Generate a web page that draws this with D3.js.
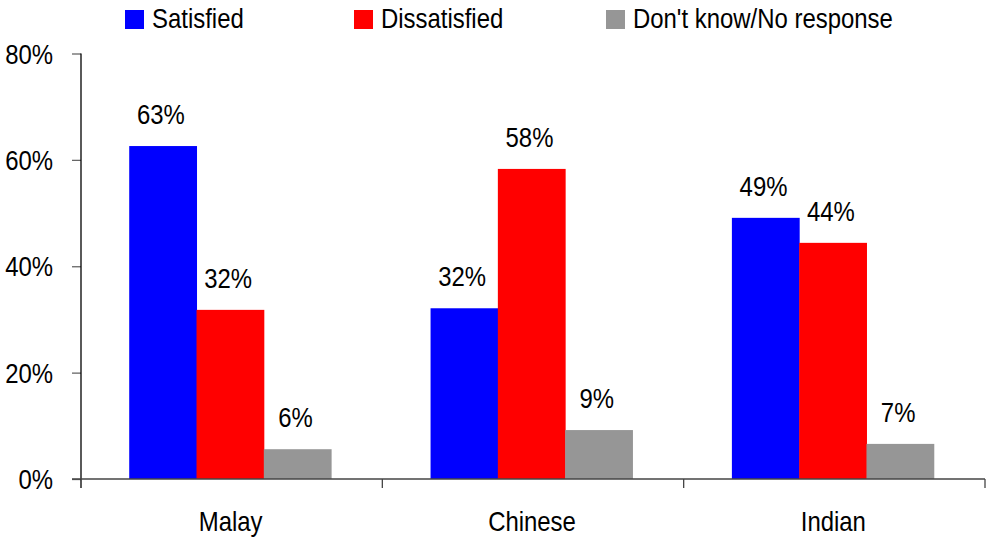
<!DOCTYPE html>
<html>
<head>
<meta charset="utf-8">
<script src="https://cdn.jsdelivr.net/npm/d3@7"></script>
<style>
  html, body { margin: 0; padding: 0; background: #fff; }
  svg text { font-family: "Liberation Sans", Arial, sans-serif; fill: #000; }
</style>
</head>
<body>
<svg id="chart" width="988" height="539"></svg>
<script>
const categories = ["Malay", "Chinese", "Indian"];
const seriesNames = ["Satisfied", "Dissatisfied", "Don't know/No response"];
const satisfied = [62.6, 32.1, 49.1];
const dissatisfied = [31.8, 58.3, 44.4];
const dontKnow = [5.6, 9.2, 6.6];
const yTicks = [0, 20, 40, 60, 80];
const colors = ["#0000FF", "#FF0000", "#969696"];

const seriesValues = [satisfied, dissatisfied, dontKnow];
const data = categories.map((c, i) => ({
  category: c,
  values: seriesNames.map((s, j) => ({ series: s, value: seriesValues[j][i], idx: j }))
}));

const svg = d3.select("#chart");
const plotLeft = 81, plotRight = 985, plotTop = 53.5, plotBottom = 479;
const fontSize = 27.5;
const sx = 0.87; // horizontal condensing to mimic a narrow face

const x0 = d3.scaleBand().domain(categories).range([plotLeft, plotRight]).paddingInner(0.33).paddingOuter(0.165);
const x1 = d3.scaleBand().domain(seriesNames).range([0, x0.bandwidth()]);
const y = d3.scaleLinear().domain([0, 80]).range([plotBottom, plotTop]);

function place(sel, fx, fy) {
  sel.attr("transform", (d, i) => `translate(${fx(d, i)},${fy(d, i)}) scale(${sx},1)`);
}

// bars
const groups = svg.append("g").selectAll("g").data(data).join("g")
  .attr("transform", d => `translate(${x0(d.category) - 1.5},0)`);
groups.selectAll("rect").data(d => d.values).join("rect")
  .attr("x", d => x1(d.series))
  .attr("y", d => y(d.value))
  .attr("width", x1.bandwidth() + 0.5)
  .attr("height", d => y(0) - y(d.value))
  .attr("fill", d => colors[d.idx]);

// value labels
groups.selectAll("text").data(d => d.values).join("text")
  .attr("text-anchor", "middle")
  .attr("font-size", fontSize)
  .call(place, d => x1(d.series) + x1.bandwidth() / 2 - 2, d => y(d.value) - 22)
  .text(d => Math.round(d.value) + "%");

// y axis
const yAxis = d3.axisLeft(y).tickValues(yTicks).tickSize(9).tickPadding(19).tickFormat(d => d + "%");
const yg = svg.append("g").attr("transform", `translate(${plotLeft},0)`).call(yAxis);
yg.attr("font-family", null).attr("font-size", null);
yg.select(".domain").remove();
yg.selectAll(".tick line").attr("stroke", "#666").attr("stroke-width", 1.3);
yg.selectAll(".tick text")
  .attr("font-size", fontSize)
  .attr("x", -28 / sx)
  .attr("dy", "0.35em")
  .attr("transform", `scale(${sx},1)`);
svg.append("line").attr("x1", plotLeft).attr("x2", plotLeft).attr("y1", y(80)).attr("y2", plotBottom + 9)
  .attr("stroke", "#000").attr("stroke-width", 1.3);

// x axis line
svg.append("line").attr("x1", plotLeft - 9).attr("x2", plotRight).attr("y1", plotBottom).attr("y2", plotBottom)
  .attr("stroke", "#444").attr("stroke-width", 1.5);
// x ticks at category boundaries
const boundaries = categories.map((c, i) => plotLeft + x0.step() * (i + 1));
svg.append("g").selectAll("line").data(boundaries).join("line")
  .attr("x1", d => d).attr("x2", d => d).attr("y1", plotBottom).attr("y2", plotBottom + 9)
  .attr("stroke", "#444").attr("stroke-width", 1.3);

// category labels
svg.append("g").selectAll("text").data(categories).join("text")
  .attr("text-anchor", "middle")
  .attr("font-size", fontSize)
  .call(place, d => x0(d) + x0.bandwidth() / 2 - 1, () => 531)
  .text(d => d);

// legend
const legendX = [125, 354, 606];
const lg = svg.append("g").selectAll("g").data(seriesNames).join("g")
  .attr("transform", (d, i) => `translate(${legendX[i]},10)`);
lg.append("rect").attr("width", 19).attr("height", 19).attr("fill", (d, i) => colors[i]);
lg.append("text").attr("font-size", fontSize)
  .call(place, () => 27, () => 17.5)
  .text(d => d);
</script>
</body>
</html>
